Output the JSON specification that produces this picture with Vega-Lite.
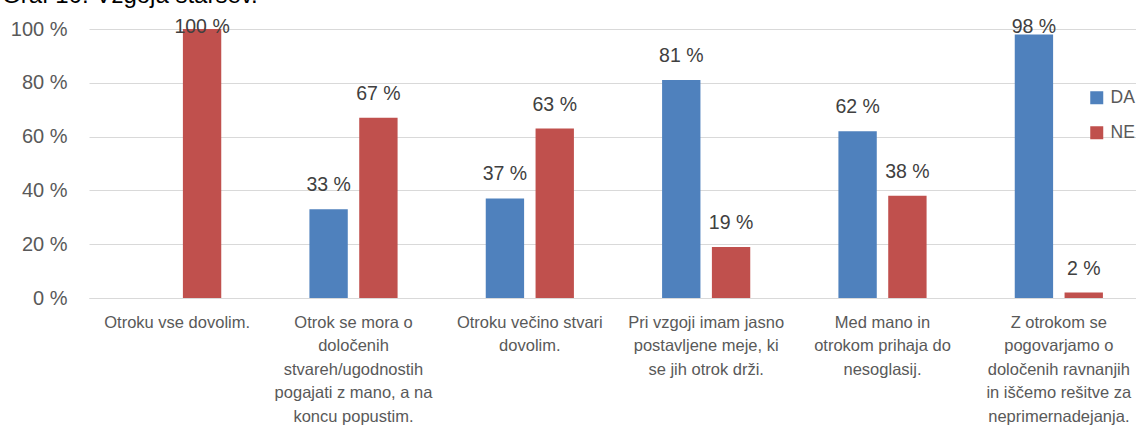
{
  "$schema": "https://vega.github.io/schema/vega-lite/v6.json",
  "width": 1058,
  "height": 269,
  "autosize": "none",
  "padding": {"left": 89, "top": 29, "right": 0, "bottom": 132},
  "background": "white",
  "config": {
    "locale": {"number": {"decimal": ",", "thousands": ".", "grouping": [3], "currency": ["", " €"], "percent": " %"}},
    "view": {"stroke": null},
    "font": "Liberation Sans"
  },
  "title": {
    "text": "Graf 10: Vzgoja staršev.",
    "anchor": "start",
    "frame": "group",
    "baseline": "alphabetic",
    "fontSize": 24,
    "fontWeight": "normal",
    "color": "#000000",
    "offset": 6,
    "dx": -87,
    "dy": 16
  },
  "data": {
    "values": [
      {"trditev": "Otroku vse dovolim.", "odgovor": "NE", "delez": 1.0},
      {"trditev": "Otrok se mora o\ndoločenih\nstvareh/ugodnostih\npogajati z mano, a na\nkoncu popustim.", "odgovor": "DA", "delez": 0.33},
      {"trditev": "Otrok se mora o\ndoločenih\nstvareh/ugodnostih\npogajati z mano, a na\nkoncu popustim.", "odgovor": "NE", "delez": 0.67},
      {"trditev": "Otroku večino stvari\ndovolim.", "odgovor": "DA", "delez": 0.37},
      {"trditev": "Otroku večino stvari\ndovolim.", "odgovor": "NE", "delez": 0.63},
      {"trditev": "Pri vzgoji imam jasno\npostavljene meje, ki\nse jih otrok drži.", "odgovor": "DA", "delez": 0.81},
      {"trditev": "Pri vzgoji imam jasno\npostavljene meje, ki\nse jih otrok drži.", "odgovor": "NE", "delez": 0.19},
      {"trditev": "Med mano in\notrokom prihaja do\nnesoglasij.", "odgovor": "DA", "delez": 0.62},
      {"trditev": "Med mano in\notrokom prihaja do\nnesoglasij.", "odgovor": "NE", "delez": 0.38},
      {"trditev": "Z otrokom se\npogovarjamo o\ndoločenih ravnanjih\nin iščemo rešitve za\nneprimernadejanja.", "odgovor": "DA", "delez": 0.98},
      {"trditev": "Z otrokom se\npogovarjamo o\ndoločenih ravnanjih\nin iščemo rešitve za\nneprimernadejanja.", "odgovor": "NE", "delez": 0.02}
    ]
  },
  "encoding": {
    "x": {
      "field": "trditev",
      "type": "nominal",
      "sort": null,
      "scale": {"paddingInner": 0.5, "paddingOuter": 0.25},
      "axis": {
        "title": null,
        "labelAngle": 0,
        "ticks": false,
        "domainColor": "#D9D9D9",
        "labelFontSize": 16.5,
        "labelColor": "#595959",
        "labelPadding": 16,
        "labelLineHeight": 23.5,
        "labelLimit": 0,
        "labelOverlap": false,
        "labelBound": false,
        "labelExpr": "split(datum.label, '\\n')"
      }
    },
    "xOffset": {
      "field": "odgovor",
      "type": "nominal",
      "sort": ["DA", "NE"],
      "scale": {"paddingInner": 0.23, "paddingOuter": 0}
    },
    "y": {
      "field": "delez",
      "type": "quantitative",
      "scale": {"domain": [0, 1]},
      "axis": {
        "title": null,
        "format": ".0%",
        "values": [0, 0.2, 0.4, 0.6, 0.8, 1],
        "gridColor": "#D9D9D9",
        "domain": false,
        "ticks": false,
        "labelPadding": 22,
        "labelFontSize": 20,
        "labelColor": "#595959"
      }
    }
  },
  "layer": [
    {
      "mark": {"type": "bar"},
      "encoding": {
        "color": {
          "field": "odgovor",
          "type": "nominal",
          "scale": {"domain": ["DA", "NE"], "range": ["#4F81BD", "#C0504D"]},
          "legend": {
            "orient": "none",
            "legendX": 999,
            "legendY": 60,
            "title": null,
            "symbolType": "square",
            "symbolSize": 169,
            "symbolStrokeWidth": 0,
            "labelFontSize": 17.5,
            "labelColor": "#595959",
            "rowPadding": 16,
            "labelOffset": 5
          }
        }
      }
    },
    {
      "mark": {
        "type": "text",
        "baseline": "alphabetic",
        "fontSize": 19.5,
        "color": "#404040",
        "dy": {"expr": "max(-18, 4 - (1 - datum.delez) * 269)"}
      },
      "encoding": {
        "text": {"field": "delez", "type": "quantitative", "format": ".0%"}
      }
    }
  ]
}
